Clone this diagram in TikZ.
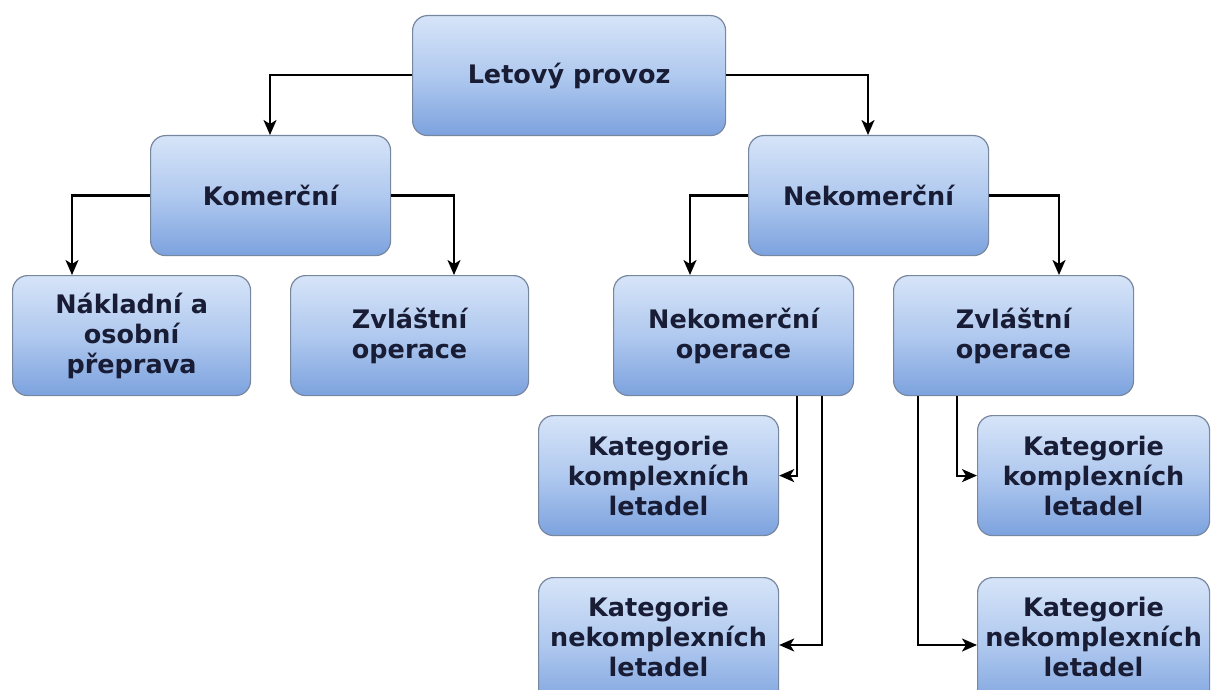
\documentclass[tikz,border=0pt]{standalone}
\usepackage{fontspec}
\setmainfont{DejaVu Sans}
\usetikzlibrary{arrows.meta}
\definecolor{boxtop}{RGB}{214,228,248}
\definecolor{boxmid}{RGB}{176,201,239}
\definecolor{boxbot}{RGB}{124,162,222}
\definecolor{boxline}{RGB}{120,135,160}
\definecolor{txt}{RGB}{24,28,52}
\tikzset{
  lbl/.style={align=center, text=txt, font=\fontsize{25.5}{30}\selectfont\bfseries, inner sep=0pt},
  box/.style={draw=boxline, line width=1.2pt, rounded corners=15pt,
    top color=boxtop, bottom color=boxbot, middle color=boxmid,
    lbl, anchor=north west},
  conn/.style={line width=2.2pt, black, -{Stealth[length=15pt,width=13pt,inset=4pt]}},
}
\begin{document}
\begin{tikzpicture}[x=1pt,y=-1pt]
\useasboundingbox (0,0) rectangle (1211,690);
\clip (0,0) rectangle (1211,690);
\fill[white] (0,0) rectangle (1211,690);
% boxes
\node[box, minimum width=313pt, minimum height=120pt] (root) at (412,15) {Letový provoz};
\node[box, minimum width=240pt, minimum height=120pt] (kom) at (150,135) {Komerční};
\node[box, minimum width=240pt, minimum height=120pt] (nekom) at (748,135) {Nekomerční};
\node[box, minimum width=238pt, minimum height=120pt] (nakl) at (12,275) {Nákladní a\\osobní\\přeprava};
\node[box, minimum width=238pt, minimum height=120pt] (zvl1) at (290,275) {Zvláštní\\operace};
\node[box, minimum width=240pt, minimum height=120pt] (nop) at (613,275) {Nekomerční\\operace};
\node[box, minimum width=240pt, minimum height=120pt] (zvl2) at (893,275) {Zvláštní\\operace};
\node[box, minimum width=240pt, minimum height=120pt] (k1) at (538,415) {Kategorie\\komplexních\\letadel};
\node[box, minimum width=240pt, minimum height=132pt,
  label={[lbl, yshift=7pt]center:{Kategorie\\nekomplexních\\letadel}}] (k2) at (538,577) {};
\node[box, minimum width=232pt, minimum height=120pt] (k3) at (977,415) {Kategorie\\komplexních\\letadel};
\node[box, minimum width=232pt, minimum height=132pt,
  label={[lbl, yshift=7pt]center:{Kategorie\\nekomplexních\\letadel}}] (k4) at (977,577) {};
% connectors
\draw[conn] (root.west |- 0,75) -| (kom.north -| 270,0);
\draw[conn] (root.east |- 0,75) -| (nekom.north -| 868,0);
\draw[conn] (kom.west) -| (nakl.north -| 72,0);
\draw[conn] (kom.east) -| (zvl1.north -| 454,0);
\draw[conn] (nekom.west) -| (nop.north -| 690,0);
\draw[conn] (nekom.east) -| (zvl2.north -| 1059,0);
\draw[conn] (nop.south -| 797,0) |- (k1.east);
\draw[conn] (nop.south -| 822,0) |- (k2.east |- 0,645);
\draw[conn] (zvl2.south -| 957,0) |- (k3.west);
\draw[conn] (zvl2.south -| 918,0) |- (k4.west |- 0,645);
\end{tikzpicture}
\end{document}
